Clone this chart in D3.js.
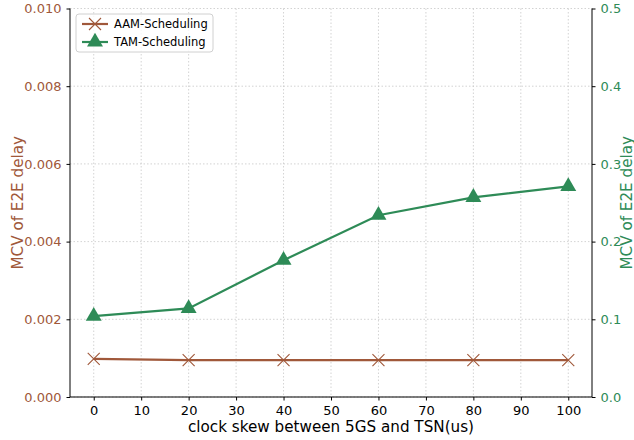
<!DOCTYPE html>
<html>
<head>
<meta charset="utf-8">
<script src="https://cdn.jsdelivr.net/npm/d3@7"></script>
<style>
  body { margin: 0; background: #fff; }
  svg { font-family: "DejaVu Sans", sans-serif; }
  .grid line { stroke: #c8c8c8; stroke-dasharray: 1.5 2; stroke-width: 0.8; }
</style>
</head>
<body>
<svg width="634" height="440"></svg>
<script>
// chart values
var skew = [0, 20, 40, 60, 80, 100];
var aamValues = [0.00098, 0.00095, 0.00095, 0.00095, 0.00095, 0.00095];
var tamValues = [0.104, 0.114, 0.176, 0.234, 0.257, 0.271];
var xTicks = [0, 10, 20, 30, 40, 50, 60, 70, 80, 90, 100];
var leftTicks = [0, 0.002, 0.004, 0.006, 0.008, 0.010];
var rightTicks = [0, 0.1, 0.2, 0.3, 0.4, 0.5];

var brown = '#a0583a';
var green = '#2e8b57';

var svg = d3.select('svg');
var margin = {top: 8.5, right: 42, bottom: 43, left: 70};
var width = 634 - margin.left - margin.right;
var height = 440 - margin.top - margin.bottom;

var g = svg.append('g')
  .attr('transform', 'translate(' + margin.left + ',' + margin.top + ')');

var xScale = d3.scaleLinear().domain([-5, 105]).range([0, width]);
var yLeft = d3.scaleLinear().domain([0, 0.010]).range([height, 0]);
var yRight = d3.scaleLinear().domain([0, 0.5]).range([height, 0]);

// grid
var grid = g.append('g').attr('class', 'grid');
grid.selectAll('.gx').data(xTicks).enter().append('line')
  .attr('x1', function(d) { return xScale(d); })
  .attr('x2', function(d) { return xScale(d); })
  .attr('y1', 0).attr('y2', height);
grid.selectAll('.gy').data(leftTicks).enter().append('line')
  .attr('y1', function(d) { return yLeft(d); })
  .attr('y2', function(d) { return yLeft(d); })
  .attr('x1', 0).attr('x2', width);

// axes
var xAxis = g.append('g')
  .attr('transform', 'translate(0,' + height + ')')
  .call(d3.axisBottom(xScale).tickValues(xTicks).tickSize(3.5).tickPadding(5).tickSizeOuter(0));

var leftAxis = g.append('g')
  .call(d3.axisLeft(yLeft).tickValues(leftTicks).tickFormat(d3.format('.3f')).tickSize(3.5).tickPadding(5).tickSizeOuter(0));

var rightAxis = g.append('g')
  .attr('transform', 'translate(' + width + ',0)')
  .call(d3.axisRight(yRight).tickValues(rightTicks).tickFormat(d3.format('.1f')).tickSize(3.5).tickPadding(5).tickSizeOuter(0));

[xAxis, leftAxis, rightAxis].forEach(function(a) {
  a.selectAll('text').style('font-size', '13px').style('font-family', '"DejaVu Sans", sans-serif');
  a.selectAll('line').attr('stroke', '#000');
  a.select('.domain').remove();
});
leftAxis.selectAll('text').attr('fill', brown);
rightAxis.selectAll('text').attr('fill', green);

// frame
g.append('line').attr('x1', 0).attr('x2', width).attr('y1', height).attr('y2', height).attr('stroke', '#000');
g.append('line').attr('x1', 0).attr('x2', 0).attr('y1', 0).attr('y2', height).attr('stroke', '#000');
g.append('line').attr('x1', width).attr('x2', width).attr('y1', 0).attr('y2', height).attr('stroke', '#000');

// axis labels
svg.append('text')
  .attr('x', margin.left + width / 2).attr('y', 432)
  .attr('text-anchor', 'middle')
  .style('font-size', '15.2px')
  .text('clock skew between 5GS and TSN(us)');

svg.append('text')
  .attr('transform', 'translate(23,' + (margin.top + height / 2) + ') rotate(-90)')
  .attr('text-anchor', 'middle')
  .attr('fill', brown)
  .style('font-size', '15.2px')
  .text('MCV of E2E delay');

svg.append('text')
  .attr('transform', 'translate(632,' + (margin.top + height / 2) + ') rotate(-90)')
  .attr('text-anchor', 'middle')
  .attr('fill', green)
  .style('font-size', '15.2px')
  .text('MCV of E2E delay');

// series
var aamData = skew.map(function(s, i) { return {x: s, y: aamValues[i]}; });
var tamData = skew.map(function(s, i) { return {x: s, y: tamValues[i]}; });

var lineAam = d3.line().x(function(d) { return xScale(d.x); }).y(function(d) { return yLeft(d.y); });
var lineTam = d3.line().x(function(d) { return xScale(d.x); }).y(function(d) { return yRight(d.y); });

var crossPath = 'M-6,-6L6,6M-6,6L6,-6';

g.append('path').datum(aamData).attr('d', lineAam)
  .attr('fill', 'none').attr('stroke', brown).attr('stroke-width', 2.2);

g.selectAll('.aam').data(aamData).enter().append('path')
  .attr('d', crossPath)
  .attr('transform', function(d) { return 'translate(' + xScale(d.x) + ',' + yLeft(d.y) + ')'; })
  .attr('stroke', brown).attr('stroke-width', 1.1).attr('fill', 'none');

g.append('path').datum(tamData).attr('d', lineTam)
  .attr('fill', 'none').attr('stroke', green).attr('stroke-width', 2.2);

var tri = d3.symbol().type(d3.symbolTriangle).size(110);
g.selectAll('.tam').data(tamData).enter().append('path')
  .attr('d', tri)
  .attr('transform', function(d) { return 'translate(' + xScale(d.x) + ',' + yRight(d.y) + ')'; })
  .attr('fill', green);

// legend
var legend = svg.append('g').attr('transform', 'translate(76,14)');
legend.append('rect').attr('width', 137).attr('height', 38).attr('rx', 3)
  .attr('fill', '#fff').attr('fill-opacity', 0.8).attr('stroke', '#d0d0d0');
legend.append('line').attr('x1', 6).attr('x2', 32).attr('y1', 10).attr('y2', 10)
  .attr('stroke', brown).attr('stroke-width', 2.2);
legend.append('path').attr('d', crossPath)
  .attr('transform', 'translate(19,10)').attr('stroke', brown).attr('stroke-width', 1.1);
legend.append('text').attr('x', 38).attr('y', 14).style('font-size', '11.5px').text('AAM-Scheduling');
legend.append('line').attr('x1', 6).attr('x2', 32).attr('y1', 28).attr('y2', 28)
  .attr('stroke', green).attr('stroke-width', 2.2);
legend.append('path').attr('d', tri).attr('transform', 'translate(19,28)').attr('fill', green);
legend.append('text').attr('x', 38).attr('y', 32).style('font-size', '11.5px').text('TAM-Scheduling');
</script>
</body>
</html>
